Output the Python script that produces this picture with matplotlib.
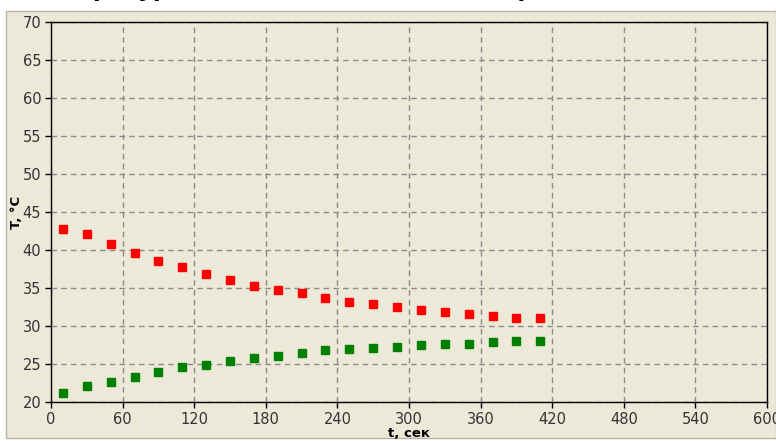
import matplotlib
matplotlib.use("Agg")
import matplotlib.pyplot as plt
from matplotlib.patches import Rectangle
import numpy as np

t = [10, 30, 50, 70, 90, 110, 130, 150, 170, 190, 210,
     230, 250, 270, 290, 310, 330, 350, 370, 390, 410]
hot = [42.7, 42.1, 40.8, 39.6, 38.6, 37.7, 36.8, 36.0, 35.3, 34.8, 34.3,
       33.7, 33.2, 32.9, 32.5, 32.1, 31.8, 31.6, 31.3, 31.1, 31.0]
cold = [21.2, 22.1, 22.6, 23.3, 23.9, 24.6, 24.9, 25.4, 25.8, 26.1, 26.4,
        26.8, 27.0, 27.1, 27.3, 27.5, 27.6, 27.6, 27.9, 28.0, 28.0]
xticks = list(range(0, 601, 60))
yticks = list(range(20, 71, 5))
title = "Температура воды в зависимости от времени"
xlabel = "t, сек"
ylabel = "T, °C"

BG = "#ECE9D8"
W, H = 776, 441
fig = plt.figure(figsize=(W / 100, H / 100), dpi=100)
fig.patch.set_facecolor("white")

# beige panel
panel = Rectangle((6 / W, 3 / H), (W - 6) / W, (H - 11 - 3) / H,
                  transform=fig.transFigure, facecolor=BG,
                  edgecolor="#B8B4A2", linewidth=1, zorder=-10)
fig.patches.append(panel)

# cropped title (only descenders visible)
fig.text(12 / W, 1 + 4.5 / H, title, ha="left", va="baseline",
         fontsize=16.5, fontweight="bold", family="DejaVu Sans", color="black")

ax = fig.add_axes([51 / W, (H - 402) / H, (767 - 51) / W, (402 - 22) / H])
ax.set_facecolor(BG)

ax.plot(t, hot, linestyle="none", marker="s", markersize=5.2,
        color="#FF0000", markeredgecolor="#FF0000", zorder=3)
ax.plot(t, cold, linestyle="none", marker="s", markersize=5.2,
        color="#008000", markeredgecolor="#008000", zorder=3)

ax.set_xlim(0, 600)
ax.set_ylim(20, 70)
ax.set_xticks(xticks)
ax.set_yticks(yticks)

tickfont = dict(family=["Liberation Sans Narrow", "DejaVu Sans"], size=10.5)
ax.set_xticklabels([str(v) for v in xticks], **tickfont, color="#333333")
ax.set_yticklabels([str(v) for v in yticks], **tickfont, color="#333333")
ax.tick_params(direction="out", length=4, width=1, color="black", pad=3)

ax.grid(True, color="#8A8A8A", linestyle=(0, (4, 3)), linewidth=1)
ax.set_axisbelow(True)
for s in ax.spines.values():
    s.set_color("black")
    s.set_linewidth(1)

ax.set_xlabel(xlabel, fontsize=9.5, fontweight="bold", family="DejaVu Sans",
              labelpad=0)
ax.set_ylabel(ylabel, fontsize=9.5, fontweight="bold", family="DejaVu Sans",
              labelpad=0)

fig.savefig("out.png", dpi=100, facecolor=fig.get_facecolor())
